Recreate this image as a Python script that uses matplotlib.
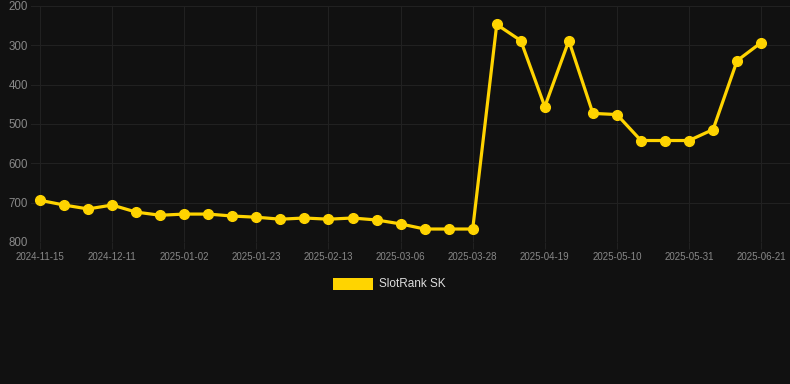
import matplotlib
matplotlib.use("Agg")
import matplotlib.pyplot as plt
from matplotlib.patches import Rectangle

plt.rcParams['font.family'] = ['Liberation Sans', 'DejaVu Sans']

tick_labels = ["2024-11-15", "2024-12-11", "2025-01-02", "2025-01-23", "2025-02-13",
               "2025-03-06", "2025-03-28", "2025-04-19", "2025-05-10", "2025-05-31",
               "2025-06-21"]
ranks = [694, 706, 716, 706, 724, 732, 729, 729, 734, 737, 742, 739, 742, 739, 744,
         754, 767, 767, 767, 247, 288, 456, 288, 473, 476, 542, 542, 542, 514, 339, 293]
series_name = "SlotRank SK"
yticks = [200, 300, 400, 500, 600, 700, 800]

W, H = 790, 384
fig = plt.figure(figsize=(W / 100, H / 100), dpi=100, facecolor="#111111")
ax = fig.add_axes([31 / W, 1 - 242 / H, (790 - 31) / W, (242 - 6) / H])
ax.set_facecolor("#111111")

x = list(range(len(ranks)))
line_color = "#FFD400"
ax.plot(x, ranks, color=line_color, lw=2.3, marker="o", ms=7, zorder=3,
        solid_joinstyle="round")

ax.set_ylim(800, 200)
ax.set_xlim(-0.375, len(ranks) - 1 + 1.2)
ax.set_yticks(yticks)
ax.set_xticks(x[::3])
ax.set_xticklabels(tick_labels)

ax.grid(True, color="#212121", lw=0.8)
for s in ax.spines.values():
    s.set_visible(False)
ax.tick_params(axis="y", length=0, colors="#888888", labelsize=8.3, pad=2)
ax.tick_params(axis="x", length=5, color="#212121", colors="#888888", labelsize=7, pad=2)

# legend
fig.patches.append(Rectangle((333 / W, 1 - 290 / H), 40 / W, 12 / H,
                             transform=fig.transFigure, facecolor=line_color,
                             edgecolor="none"))
fig.text(379 / W, 1 - 284 / H, series_name, color="#dddddd", fontsize=8.5,
         va="center", ha="left")

fig.savefig("out.png", dpi=100, facecolor="#111111")
